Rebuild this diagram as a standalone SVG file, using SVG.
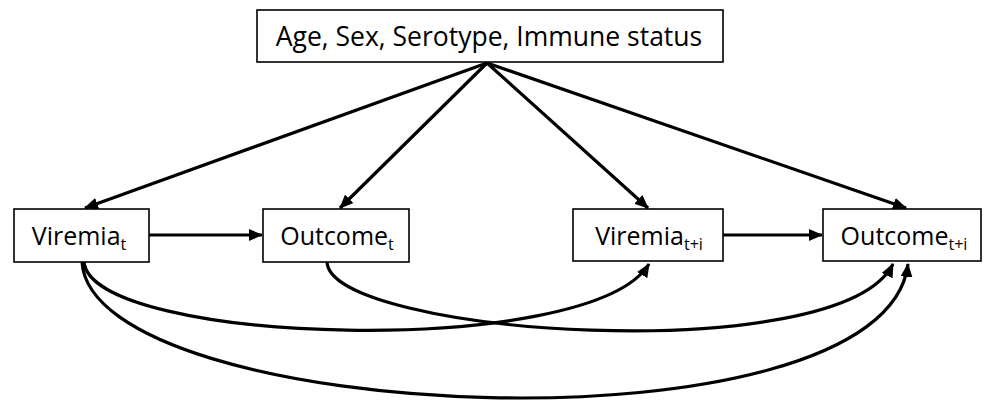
<svg xmlns="http://www.w3.org/2000/svg" width="992" height="401" viewBox="0 0 992 401">
<style>
.box{fill:#fff;stroke:#000;stroke-width:1.6}
.lbl{font-family:"Open Sans","Liberation Sans",sans-serif;font-size:25px;fill:#000}
.top{font-size:26.5px}
.sub{font-size:16px}
.c{fill:none;stroke:#000;stroke-width:3.2;marker-end:url(#ah)}
</style>
<defs>
<marker id="ah" markerUnits="userSpaceOnUse" markerWidth="14" markerHeight="12" viewBox="0 0 14 12" refX="13" refY="6" orient="auto">
<path d="M0,0 L14,6 L0,12 Z" fill="#000"/>
</marker>
</defs>
<g id="connectors">
<path class="c" d="M487,63 L85,208"/>
<path class="c" d="M487,63 L340,208"/>
<path class="c" d="M487,63 L648,208"/>
<path class="c" d="M487,63 L906,208"/>
<path class="c" d="M149,235 L262,235"/>
<path class="c" d="M723,235 L822,235"/>
<path class="c" d="M84,262 C92,345 590,360 649,264"/>
<path class="c" d="M327,262 C330,335 840,370 893,264"/>
<path class="c" d="M82,262 C92,425 885,460 908,264"/>
</g>
<g id="confounders">
<rect class="box" x="257" y="10" width="466" height="52"/>
<text class="lbl top" x="489" y="46" text-anchor="middle">Age, Sex, Serotype, Immune status</text>
</g>
<g id="viremia_t">
<rect class="box" x="14" y="209" width="135" height="53"/>
<text class="lbl" x="79" y="245" text-anchor="middle">Viremia<tspan class="sub" dy="5">t</tspan></text>
</g>
<g id="outcome_t">
<rect class="box" x="263" y="209" width="146" height="53"/>
<text class="lbl" x="337" y="245" text-anchor="middle">Outcome<tspan class="sub" dy="5">t</tspan></text>
</g>
<g id="viremia_ti">
<rect class="box" x="573" y="209" width="150" height="52"/>
<text class="lbl" x="649" y="245" text-anchor="middle">Viremia<tspan class="sub" dy="5">t+i</tspan></text>
</g>
<g id="outcome_ti">
<rect class="box" x="823" y="209" width="158" height="52"/>
<text class="lbl" x="904" y="245" text-anchor="middle">Outcome<tspan class="sub" dy="5">t+i</tspan></text>
</g>
</svg>
